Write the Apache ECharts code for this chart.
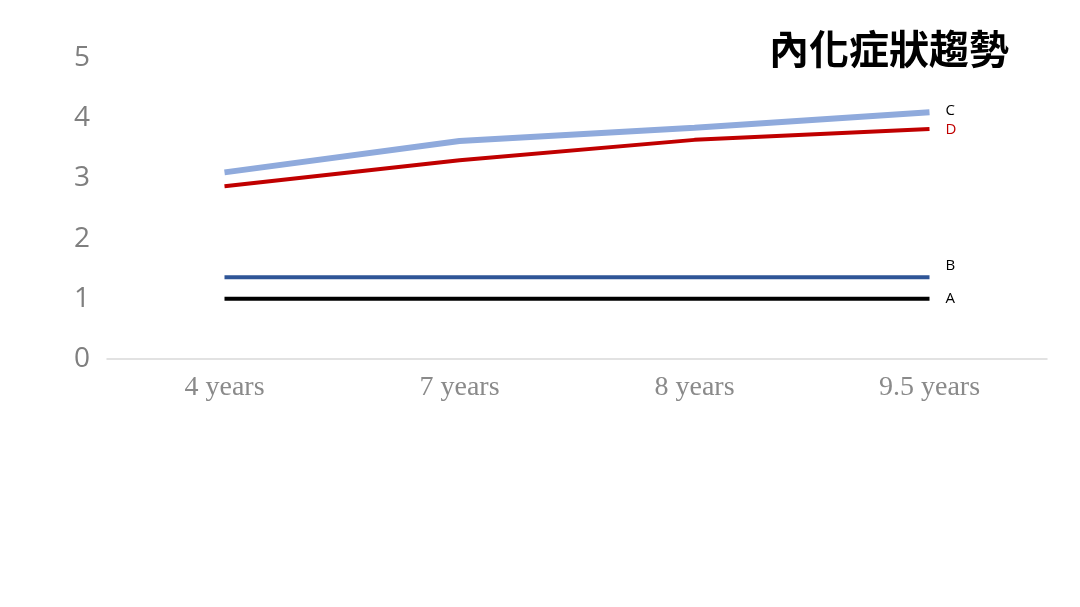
<!DOCTYPE html>
<html><head><meta charset="utf-8">
<script src="https://cdn.jsdelivr.net/npm/echarts@6/dist/echarts.min.js"></script>
<style>html,body{margin:0;padding:0;background:#fff}#c{width:1080px;height:607px}</style>
</head><body><div id="c"></div>
<script>
const categories = ['4 years', '7 years', '8 years', '9.5 years'];
const seriesA = [1.0, 1.0, 1.0, 1.0];
const seriesB = [1.36, 1.36, 1.36, 1.36];
const seriesC = [3.1, 3.62, 3.84, 4.1];
const seriesD = [2.87, 3.3, 3.64, 3.82];
const yTicks = [0, 1, 2, 3, 4, 5];

const chart = echarts.init(document.getElementById('c'));
function mk(name, data, color, width, labelColor, offY) {
  return {
    name, type: 'line', data, symbol: 'none', silent: true,
    lineStyle: { color, width },
    endLabel: { show: true, formatter: name, color: labelColor, fontSize: 15,
      fontFamily: 'Open Sans, sans-serif', distance: 16, offset: [0, offY] },
    z: 2
  };
}
chart.setOption({
  animation: false,
  title: { text: '內化症狀趨勢', right: 66, top: 24,
    textStyle: { fontFamily: 'Noto Sans CJK TC', fontWeight: 'bold', fontSize: 40, color: '#000' } },
  grid: { left: 107, right: 33, top: 58, bottom: 248 },
  xAxis: { type: 'category', data: categories, boundaryGap: true,
    axisLine: { lineStyle: { color: '#d9d9d9', width: 1.5 } },
    axisTick: { show: false },
    axisLabel: { color: '#8a8a8a', fontSize: 28, fontFamily: 'Liberation Serif, serif', margin: 15 } },
  yAxis: { type: 'value', min: yTicks[0], max: yTicks[yTicks.length - 1], interval: 1,
    axisLine: { show: false }, axisTick: { show: false }, splitLine: { show: false },
    axisLabel: { color: '#7f7f7f', fontSize: 28, fontFamily: 'Open Sans, sans-serif', margin: 17 } },
  series: [
    mk('A', seriesA, '#000000', 4, '#000', 0),
    mk('B', seriesB, '#2F5597', 4, '#000', -11),
    mk('C', seriesC, '#8FAADC', 6, '#000', -1),
    mk('D', seriesD, '#C00000', 4, '#C00000', 1)
  ]
});
</script></body></html>
